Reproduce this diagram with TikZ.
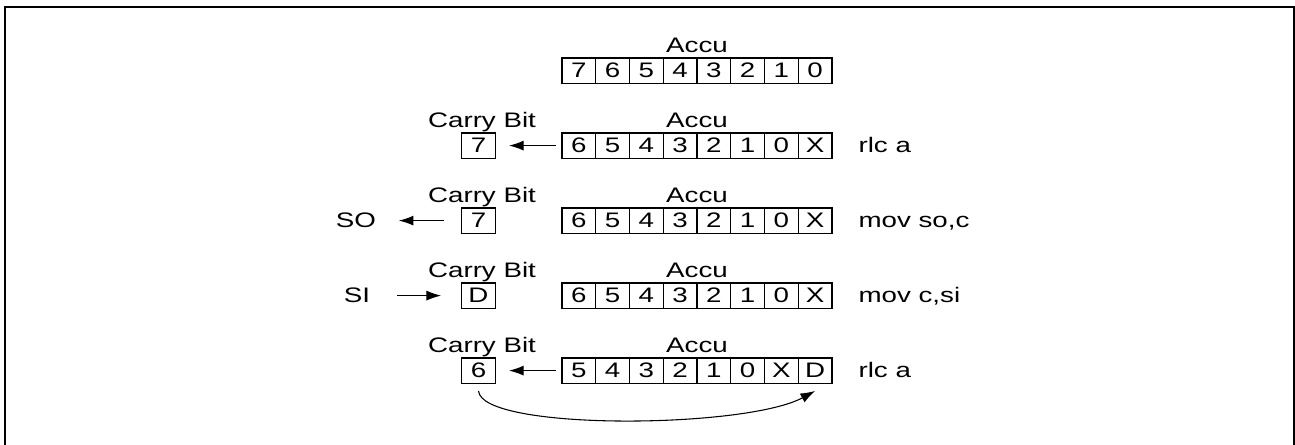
\documentclass[tikz,border=0pt]{standalone}
\usepackage{fontspec}
\setmainfont{Liberation Sans}
\usepackage{graphicx}
\usetikzlibrary{arrows.meta}
\newcommand\T[1]{\scalebox{1.32}[1]{#1}}
\tikzset{
  cell/.style={draw, line width=1pt, minimum width=25.3pt, minimum height=19pt, inner sep=0pt, font=\fontsize{15.75}{18}\selectfont},
  lbl/.style={inner sep=0pt, font=\fontsize{15.75}{18}\selectfont},
  arr/.style={line width=0.8pt, -{Latex[length=11pt,width=7.5pt]}},
  frame/.style={line width=1.3pt},
}
\begin{document}
\begin{tikzpicture}[x=0.75pt,y=-0.75pt]
\useasboundingbox (0,0) rectangle (1295,445);
\draw[frame] (5,452) -- (5,7) -- (1294,7) -- (1294,452);

% accumulator rows
\foreach \r/\y/\bits in {1/70.6/{7,6,5,4,3,2,1,0},2/145.6/{6,5,4,3,2,1,0,X},3/220.6/{6,5,4,3,2,1,0,X},4/295.6/{6,5,4,3,2,1,0,X},5/370.6/{5,4,3,2,1,0,X,D}}{
  \foreach \b [count=\i] in \bits {
    \node[cell] (a\r-\i) at ({562+33.75*(\i-0.5)},\y) {\T{\b}};
  }
  \node[lbl, anchor=base] (acc\r) at (697,\y-18) {\T{Accu}};
}

% carry bits
\node[cell] (c2) at (478.5,145.6) {\T{7}};
\node[cell] (c3) at (478.5,220.6) {\T{7}};
\node[cell] (c4) at (478.5,295.6) {\T{D}};
\node[cell] (c5) at (478.5,370.6) {\T{6}};
\foreach \r/\y in {2/145.6,3/220.6,4/295.6,5/370.6}{
  \node[lbl, anchor=base] (cb\r) at (482,\y-18) {\T{Carry Bit}};
}

% SO / SI
\node[lbl, anchor=base] (so) at (356,227.6) {\T{SO}};
\node[lbl, anchor=base] (si) at (357,302.6) {\T{SI}};

% instructions
\node[lbl, anchor=base west] (i2) at (858.3,152.6) {\T{rlc a}};
\node[lbl, anchor=base west] (i3) at (858.3,227.6) {\T{mov so,c}};
\node[lbl, anchor=base west] (i4) at (858.3,302.6) {\T{mov c,si}};
\node[lbl, anchor=base west] (i5) at (858.3,377.6) {\T{rlc a}};

% arrows
\draw[arr, shorten <=4pt, shorten >=9.7pt] (a2-1.west) -- (c2.east);
\draw[arr, shorten <=4pt, shorten >=9.7pt] (a5-1.west) -- (c5.east);
\draw[arr, shorten <=12.4pt, shorten >=16.9pt] (c3.west) -- (c3.west -| so.east);
\draw[arr, shorten <=20pt, shorten >=14.9pt] (c4.west -| si.east) -- (c4.west);
\draw[arr] ([yshift=-5.25pt]c5.south) .. controls +(3,40) and +(-70,38) .. ([yshift=-5.25pt]a5-8.south);
\end{tikzpicture}
\end{document}
